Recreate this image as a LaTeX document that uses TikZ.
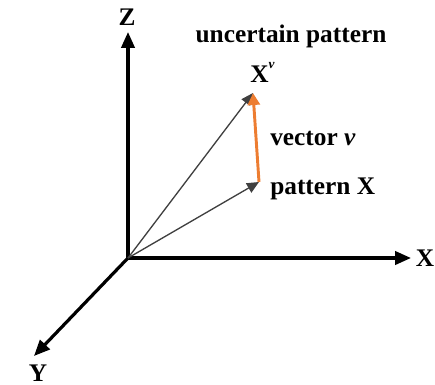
\documentclass[tikz,border=0pt]{standalone}
\usepackage{fontspec}
\setmainfont{Liberation Serif}
\usetikzlibrary{arrows.meta}
\definecolor{vecorange}{RGB}{237,125,49}
\tikzset{
	axis/.style={line width=2.4pt, -{Triangle[length=12pt, width=10pt]}},
	vec/.style={line width=1pt, draw=black!75, -{Triangle[length=9pt, width=8pt]}},
	lbl/.style={font=\fontsize{19}{22}\selectfont\bfseries, inner sep=0pt}
}
\begin{document}
\begin{tikzpicture}[x=0.75pt, y=-0.75pt]
		\useasboundingbox (0, 0) rectangle (435, 385);
		\coordinate (O) at (128, 258);
		\coordinate (Ztip) at (128, 32);
		\coordinate (Xtip) at (411, 258);
		\coordinate (Ytip) at (34, 356);
		\coordinate (P) at (259, 182);
		\coordinate (Pv) at (253, 93);
		
		\draw[axis] (O) -- (Ztip);
		\draw[axis] (O) -- (Xtip);
		\draw[axis] (O) -- (Ytip);
		
		\draw[vec] (O) -- (P);
		\draw[vec] (O) -- (Pv);
		\draw[line width=2.2pt, vecorange, -{Triangle[length=9pt, width=9pt]}] (P) -- (Pv);
		
		\node[lbl] (zlab) at (127, 17) {Z};
		\node[lbl] (xlab) at (425, 258) {X};
		\node[lbl] (ylab) at (38, 373) {Y};
		
		\node[lbl] (unc) at (291, 36) {uncertain pattern};
		\node[lbl, anchor=west] (xv) at (250, 72) {X\raisebox{0.55em}{\fontsize{10}{12}\selectfont\itshape v}};
		\node[lbl, anchor=west] (vv) at (270, 138) {vector \textit{v}};
		\node[lbl, anchor=west] (px) at (270, 189) {pattern X};
	\end{tikzpicture}
\end{document}
